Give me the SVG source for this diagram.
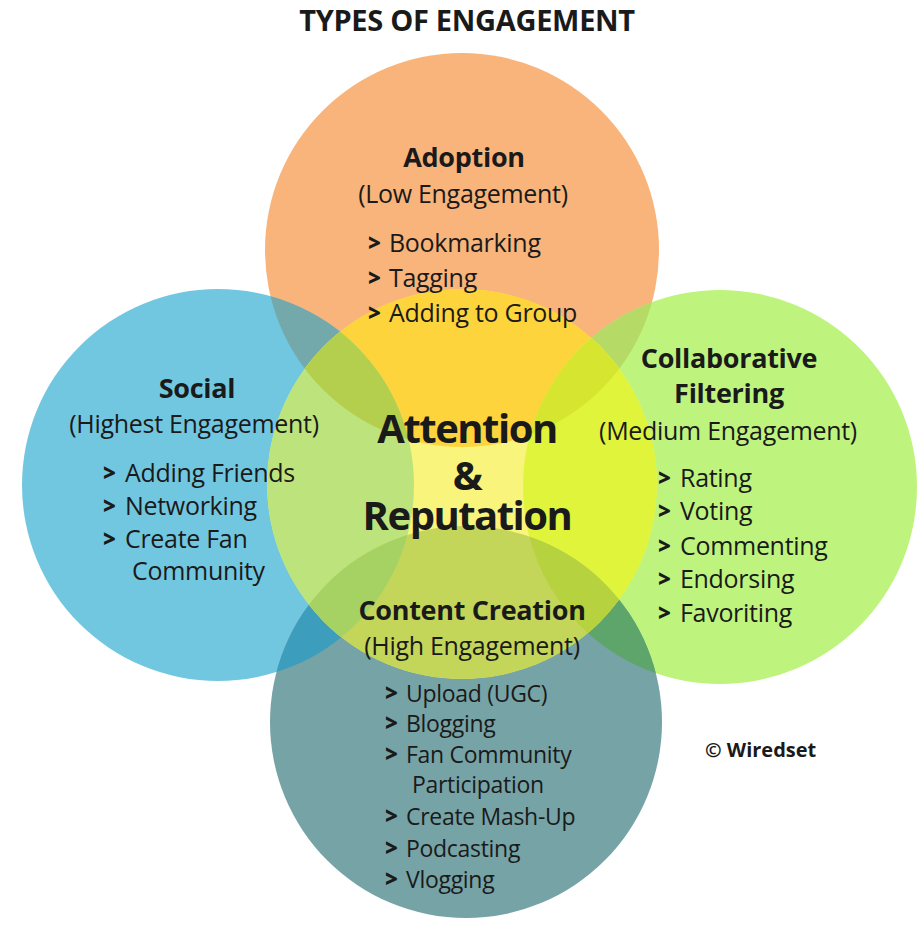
<svg xmlns="http://www.w3.org/2000/svg" width="919" height="927" viewBox="0 0 919 927">
  <defs>
    <clipPath id="clipO"><circle cx="462" cy="250" r="197"/></clipPath>
    <clipPath id="clipB"><circle cx="218" cy="485" r="196"/></clipPath>
    <clipPath id="clipG"><circle cx="720" cy="487" r="197"/></clipPath>
    <clipPath id="clipT"><circle cx="466" cy="722" r="196"/></clipPath>
    <clipPath id="clipC"><circle cx="462" cy="484" r="195"/></clipPath>
    <style>
      text { font-family: "Open Sans", "Noto Sans", "DejaVu Sans", sans-serif; fill: #1a1a1a; }
      .title { font-size: 29px; font-weight: 700; text-anchor: middle; letter-spacing: -0.3px; }
      .head { font-size: 27px; font-weight: 700; text-anchor: middle; letter-spacing: -0.3px; }
      .sub { font-size: 25px; text-anchor: middle; letter-spacing: -0.3px; }
      .item { font-size: 25px; letter-spacing: -0.3px; }
      .small { font-size: 23px; }
      .chev { font-size: 22px; font-weight: 800; }
      .big { font-size: 40px; font-weight: 700; text-anchor: middle; letter-spacing: -1.5px; }
      .credit { font-size: 20px; font-weight: 700; }
    </style>
  </defs>

  <rect width="919" height="927" fill="#ffffff"/>

  <!-- base circles and their outer overlaps -->
  <g id="circles">
    <circle cx="462" cy="250" r="197" fill="#F8B47A"/>
    <circle cx="218" cy="485" r="196" fill="#72C7E0"/>
    <circle cx="720" cy="487" r="197" fill="#BEF47E"/>
    <circle cx="466" cy="722" r="196" fill="#76A3A6"/>
    <!-- pairwise overlaps outside the centre -->
    <circle cx="218" cy="485" r="196" fill="#73A9AB" clip-path="url(#clipO)"/>
    <circle cx="720" cy="487" r="197" fill="#B5DB66" clip-path="url(#clipO)"/>
    <circle cx="218" cy="485" r="196" fill="#3D9DBC" clip-path="url(#clipT)"/>
    <circle cx="720" cy="487" r="197" fill="#5EA56C" clip-path="url(#clipT)"/>
    <!-- centre circle and its overlaps -->
    <g clip-path="url(#clipC)">
      <circle cx="462" cy="484" r="195" fill="#F9F47C"/>
      <circle cx="462" cy="250" r="197" fill="#FDD43C"/>
      <circle cx="218" cy="485" r="196" fill="#BDE47C"/>
      <circle cx="720" cy="487" r="197" fill="#E0F43C"/>
      <circle cx="466" cy="722" r="196" fill="#C3D65A"/>
      <circle cx="218" cy="485" r="196" fill="#B4CE4E" clip-path="url(#clipO)"/>
      <circle cx="720" cy="487" r="197" fill="#D6E630" clip-path="url(#clipO)"/>
      <circle cx="218" cy="485" r="196" fill="#A6D264" clip-path="url(#clipT)"/>
      <circle cx="720" cy="487" r="197" fill="#B6D23E" clip-path="url(#clipT)"/>
    </g>
  </g>

  <text class="title" x="467" y="31">TYPES OF ENGAGEMENT</text>

  <g id="adoption">
    <text class="head" x="464" y="167">Adoption</text>
    <text class="sub" x="463" y="203">(Low Engagement)</text>
    <text class="chev" x="368" y="251">&gt;</text>
    <text class="item" x="389" y="252">Bookmarking</text>
    <text class="chev" x="368" y="286">&gt;</text>
    <text class="item" x="389" y="287">Tagging</text>
    <text class="chev" x="368" y="321">&gt;</text>
    <text class="item" x="389" y="322">Adding to Group</text>
  </g>

  <g id="social">
    <text class="head" x="197" y="398">Social</text>
    <text class="sub" x="194" y="433">(Highest Engagement)</text>
    <text class="chev" x="103" y="481">&gt;</text>
    <text class="item" x="125" y="482">Adding Friends</text>
    <text class="chev" x="103" y="514">&gt;</text>
    <text class="item" x="125" y="515">Networking</text>
    <text class="chev" x="103" y="547">&gt;</text>
    <text class="item" x="125" y="548">Create Fan</text>
    <text class="item" x="132" y="580">Community</text>
  </g>

  <g id="filtering">
    <text class="head" x="729" y="368">Collaborative</text>
    <text class="head" x="729" y="403">Filtering</text>
    <text class="sub" x="728" y="440">(Medium Engagement)</text>
    <text class="chev" x="658" y="486">&gt;</text>
    <text class="item" x="680" y="487">Rating</text>
    <text class="chev" x="658" y="519">&gt;</text>
    <text class="item" x="680" y="520">Voting</text>
    <text class="chev" x="658" y="554">&gt;</text>
    <text class="item" x="680" y="555">Commenting</text>
    <text class="chev" x="658" y="587">&gt;</text>
    <text class="item" x="680" y="588">Endorsing</text>
    <text class="chev" x="658" y="621">&gt;</text>
    <text class="item" x="680" y="622">Favoriting</text>
  </g>

  <g id="content">
    <text class="head" x="472" y="620">Content Creation</text>
    <text class="sub" x="472" y="655">(High Engagement)</text>
    <text class="chev" x="385" y="701">&gt;</text>
    <text class="item small" x="406" y="702">Upload (UGC)</text>
    <text class="chev" x="385" y="731">&gt;</text>
    <text class="item small" x="406" y="732">Blogging</text>
    <text class="chev" x="385" y="762">&gt;</text>
    <text class="item small" x="406" y="763">Fan Community</text>
    <text class="item small" x="412" y="793">Participation</text>
    <text class="chev" x="385" y="824">&gt;</text>
    <text class="item small" x="406" y="825">Create Mash-Up</text>
    <text class="chev" x="385" y="856">&gt;</text>
    <text class="item small" x="406" y="857">Podcasting</text>
    <text class="chev" x="385" y="887">&gt;</text>
    <text class="item small" x="406" y="888">Vlogging</text>
  </g>

  <g id="core">
    <text class="big" x="467" y="443">Attention</text>
    <text class="big" x="467" y="490">&amp;</text>
    <text class="big" x="467" y="530">Reputation</text>
  </g>

  <text class="credit" x="705" y="757">© Wiredset</text>
</svg>
